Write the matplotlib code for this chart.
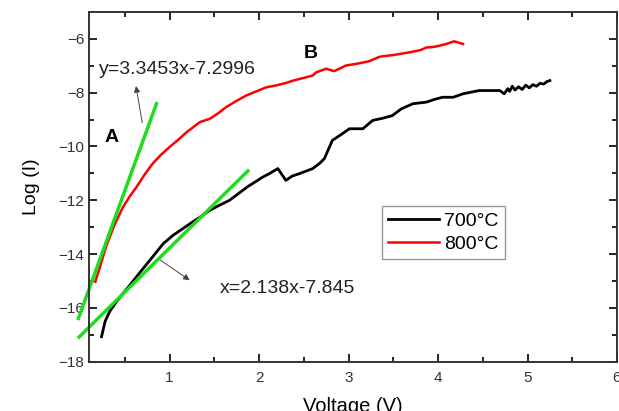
import matplotlib
matplotlib.use("Agg")
import matplotlib.pyplot as plt
from matplotlib.ticker import MultipleLocator

plt.rcParams["font.family"] = ["Liberation Sans", "DejaVu Sans"]

# 700 C curve (black)
v700 = [0.24, 0.28, 0.33, 0.40, 0.48, 0.57, 0.66, 0.78, 0.93, 1.04, 1.15, 1.26, 1.37, 1.45, 1.56,
        1.67, 1.71, 1.87, 2.04, 2.12, 2.21, 2.30, 2.37, 2.45, 2.60, 2.68, 2.73, 2.82, 2.92, 3.01,
        3.16, 3.27, 3.38, 3.49, 3.59, 3.72, 3.87, 3.96, 4.05, 4.17, 4.28, 4.37, 4.46, 4.58, 4.69,
        4.74, 4.78, 4.80, 4.83, 4.86, 4.90, 4.94, 4.98, 5.02, 5.06, 5.10, 5.14, 5.18, 5.22, 5.25]
i700 = [-17.07, -16.50, -16.14, -15.80, -15.46, -15.10, -14.72, -14.23, -13.61, -13.30, -13.05, -12.80, -12.56, -12.37, -12.18,
        -12.00, -11.90, -11.50, -11.14, -11.00, -10.82, -11.26, -11.10, -11.01, -10.82, -10.62, -10.45, -9.77, -9.55, -9.34,
        -9.34, -9.03, -8.95, -8.85, -8.60, -8.41, -8.35, -8.25, -8.17, -8.17, -8.04, -7.98, -7.92, -7.92, -7.92,
        -8.04, -7.85, -7.95, -7.76, -7.90, -7.78, -7.88, -7.72, -7.82, -7.70, -7.76, -7.65, -7.68, -7.58, -7.55]

# 800 C curve (red)
v800 = [0.17, 0.22, 0.29, 0.38, 0.48, 0.55, 0.63, 0.72, 0.81, 0.90, 1.00, 1.10, 1.19, 1.34, 1.45,
        1.55, 1.63, 1.75, 1.86, 1.97, 2.08, 2.19, 2.30, 2.38, 2.50, 2.60, 2.64, 2.75, 2.84, 2.97,
        3.10, 3.23, 3.35, 3.50, 3.68, 3.80, 3.87, 3.95, 4.02, 4.10, 4.18, 4.23, 4.28]
i800 = [-15.03, -14.50, -13.73, -12.95, -12.25, -11.88, -11.51, -11.05, -10.64, -10.32, -10.02, -9.74, -9.47, -9.09, -8.97,
        -8.75, -8.54, -8.30, -8.10, -7.95, -7.80, -7.73, -7.64, -7.55, -7.45, -7.36, -7.24, -7.11, -7.20, -6.99,
        -6.92, -6.83, -6.66, -6.60, -6.50, -6.42, -6.32, -6.30, -6.25, -6.18, -6.09, -6.14, -6.19]

# fitted lines (green)
fitA_v = [-0.025, 0.86]
fitA_i = [-16.45, -8.35]
fitB_v = [-0.025, 1.89]
fitB_i = [-17.13, -10.86]

fig = plt.figure(figsize=(6.19, 4.11), dpi=100)
ax = fig.add_axes([89 / 619, 1 - 361.7 / 411, 528 / 619, 349.7 / 411])

ax.plot(v700, i700, color="black", lw=2, label="700\u00b0C")
ax.plot(v800, i800, color="red", lw=1.8, label="800\u00b0C")
ax.plot(fitA_v, fitA_i, color="#1fdc1f", lw=2.5, clip_on=False, solid_capstyle="butt")
ax.plot(fitB_v, fitB_i, color="#1fdc1f", lw=2.5, clip_on=False, solid_capstyle="butt")

arrow = dict(arrowstyle="-|>", color="#444444", lw=0.7, mutation_scale=9)
ax.annotate("", xy=(0.62, -7.65), xytext=(0.70, -9.22), arrowprops=arrow)
ax.annotate("", xy=(1.25, -15.03), xytext=(0.87, -14.16), arrowprops=arrow)

ax.text(0.21, -7.15, "y=3.3453x-7.2996", fontsize=14, color="#222222", va="center")
ax.text(1.56, -15.28, "x=2.138x-7.845", fontsize=14, color="#222222", va="center")
ax.text(0.35, -9.65, "A", fontsize=14, fontweight="bold", ha="center", va="center")
ax.text(2.58, -6.53, "B", fontsize=14, fontweight="bold", ha="center", va="center")

ax.set_xlim(0.1, 6)
ax.set_ylim(-18, -5)
ax.xaxis.set_major_locator(MultipleLocator(1))
ax.xaxis.set_minor_locator(MultipleLocator(0.5))
ax.yaxis.set_major_locator(MultipleLocator(2))
ax.yaxis.set_minor_locator(MultipleLocator(1))
ax.tick_params(which="both", direction="in", top=True, right=True, width=1.2,
               labelsize=11, labelcolor="#333333")
ax.tick_params(which="major", length=6)
ax.tick_params(which="minor", length=3.5)
ax.tick_params(axis="x", pad=7)
for s in ax.spines.values():
    s.set_linewidth(1.4)
    s.set_color("#333333")

ax.set_xlabel("Voltage (V)", fontsize=14.5, labelpad=8)
ax.set_ylabel("Log (I)", fontsize=14, labelpad=13)

leg = ax.legend(loc="upper left", bbox_to_anchor=(0.537, 0.472), fontsize=14,
                fancybox=False, handlelength=2.6, handletextpad=0.3,
                borderpad=0.3, labelspacing=0.3, framealpha=1)
leg.get_frame().set_edgecolor("#999999")
leg.get_frame().set_linewidth(1.0)

fig.savefig("out.png", dpi=100)
